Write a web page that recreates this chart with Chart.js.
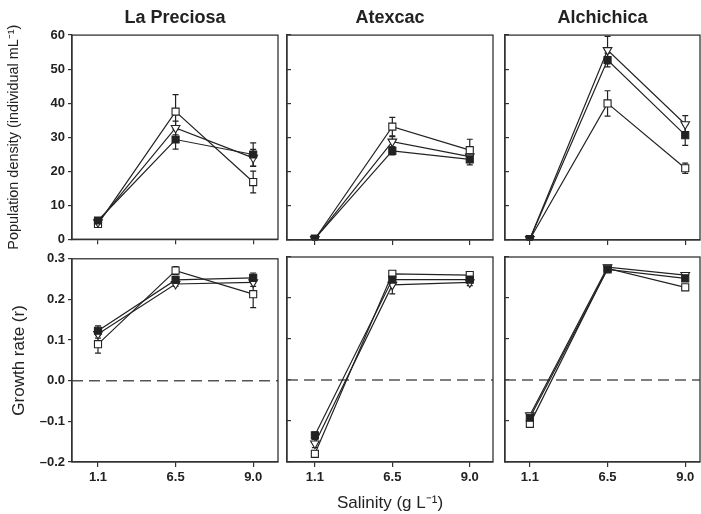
<!DOCTYPE html>
<html>
<head>
<meta charset="utf-8">
<script src="https://cdn.jsdelivr.net/npm/chart.js@4.4.0/dist/chart.umd.min.js"></script>
<style>
body { margin: 0; background: #fff; }
#wrap { position: relative; width: 701px; height: 514px; overflow: hidden; }
.panel { position: absolute; }
</style>
</head>
<body>
<div id="wrap"></div>
<script>
var salinity = ['1.1', '6.5', '9.0'];
var sites = ['La Preciosa', 'Atexcac', 'Alchichica'];

// population density, one row per site
var densityOpenSquare   = [[4.5, 37.5, 16.8], [0.3, 33.2, 26.3], [0.2, 40.0, 21.0]];
var densityOpenTriangle = [[5.0, 32.7, 23.9], [0.3, 28.8, 24.4], [0.3, 55.6, 33.9]];
var densityFilled       = [[5.5, 29.3, 24.9], [0.4, 26.1, 23.6], [0.3, 52.7, 30.7]];
var densityErrSquare    = [[0.6, 5.0, 3.2], [0.3, 2.7, 3.2], [0.3, 3.7, 1.5]];
var densityErrTriangle  = [[0.5, 2.0, 2.5], [0.3, 1.5, 1.5], [0.3, 4.0, 2.5]];
var densityErrFilled    = [[0.5, 2.8, 3.4], [0.3, 1.2, 1.6], [0.3, 2.0, 3.0]];

// growth rate r, one row per site
var growthOpenSquare   = [[0.090, 0.271, 0.213], [-0.180, 0.259, 0.256], [-0.107, 0.272, 0.226]];
var growthOpenTriangle = [[0.115, 0.238, 0.242], [-0.155, 0.232, 0.238], [-0.086, 0.275, 0.256]];
var growthFilled       = [[0.123, 0.248, 0.253], [-0.135, 0.245, 0.245], [-0.092, 0.270, 0.248]];
var growthErrSquare    = [[0.022, 0.010, 0.033], [0.008, 0.005, 0.006], [0.006, 0.004, 0.006]];
var growthErrTriangle  = [[0.010, 0.005, 0.010], [0.010, 0.022, 0.008], [0.005, 0.004, 0.005]];
var growthErrFilled    = [[0.012, 0.008, 0.012], [0.008, 0.010, 0.008], [0.005, 0.004, 0.006]];

var FONT = "'Liberation Sans', Arial, sans-serif";
var INK = '#222';

var cols = [
  { left: 0, width: 283, axisW: 72, padR: 5, xMin: -0.335, xMax: 2.32 },
  { left: 283, width: 214, axisW: 4, padR: 4, xMin: -0.36, xMax: 2.3 },
  { left: 497, width: 204, axisW: 8, padR: 1, xMin: -0.32, xMax: 2.19 }
];

// error bars drawn under the markers
var errorBars = {
  id: 'errorBars',
  beforeDatasetsDraw: function (chart) {
    var ctx = chart.ctx, ys = chart.scales.y;
    ctx.save();
    ctx.strokeStyle = INK;
    ctx.lineWidth = 1.2;
    chart.data.datasets.forEach(function (ds, di) {
      var meta = chart.getDatasetMeta(di);
      meta.data.forEach(function (pt, i) {
        var v = ds.data[i].y, e = ds.errors[i];
        var y1 = ys.getPixelForValue(v + e), y2 = ys.getPixelForValue(v - e);
        ctx.beginPath();
        ctx.moveTo(pt.x, y1); ctx.lineTo(pt.x, y2);
        ctx.moveTo(pt.x - 3, y1); ctx.lineTo(pt.x + 3, y1);
        ctx.moveTo(pt.x - 3, y2); ctx.lineTo(pt.x + 3, y2);
        ctx.stroke();
      });
    });
    ctx.restore();
  }
};

// box around the plot area and dashed zero line
var frame = {
  id: 'frame',
  beforeDatasetsDraw: function (chart, args, opts) {
    var ctx = chart.ctx, a = chart.chartArea;
    if (opts.zero) {
      var y0 = chart.scales.y.getPixelForValue(0);
      ctx.save();
      ctx.strokeStyle = '#555';
      ctx.lineWidth = 1.5;
      ctx.setLineDash([11, 6]);
      ctx.beginPath();
      ctx.moveTo(a.left, y0); ctx.lineTo(a.right, y0);
      ctx.stroke();
      ctx.restore();
    }
  },
  afterDraw: function (chart) {
    var ctx = chart.ctx, a = chart.chartArea;
    ctx.save();
    ctx.strokeStyle = '#333';
    ctx.lineWidth = 1.3;
    ctx.strokeRect(a.left, a.top, a.right - a.left, a.bottom - a.top);
    ctx.restore();
  }
};

function series(vals, errs, style, fill, rot) {
  return {
    data: vals.map(function (v, i) { return { x: i, y: v }; }),
    errors: errs,
    borderColor: INK,
    borderWidth: 1.2,
    pointStyle: style,
    pointRotation: rot || 0,
    pointRadius: 5,
    pointBorderWidth: 1.1,
    pointBorderColor: INK,
    pointBackgroundColor: fill,
    tension: 0
  };
}

function makePanel(row, c) {
  var col = cols[c];
  var top = row === 0;
  var div = document.createElement('div');
  div.className = 'panel';
  div.style.left = col.left + 'px';
  div.style.top = (top ? 0 : 248) + 'px';
  var cv = document.createElement('canvas');
  cv.width = col.width;
  cv.height = top ? 250 : 266;
  div.appendChild(cv);
  document.getElementById('wrap').appendChild(div);

  var datasets = top ? [
    series(densityFilled[c], densityErrFilled[c], 'rect', INK),
    series(densityOpenTriangle[c], densityErrTriangle[c], 'triangle', '#fff', 180),
    series(densityOpenSquare[c], densityErrSquare[c], 'rect', '#fff')
  ] : [
    series(growthFilled[c], growthErrFilled[c], 'rect', INK),
    series(growthOpenTriangle[c], growthErrTriangle[c], 'triangle', '#fff', 180),
    series(growthOpenSquare[c], growthErrSquare[c], 'rect', '#fff')
  ];

  var yTitle = c !== 0 ? { display: false } : top ? {
    display: true, text: 'Population density (individual mL\u207B\u00B9)',
    color: INK, font: { family: FONT, size: 14.4 }, padding: { top: 5 }
  } : {
    display: true, text: 'Growth rate (r)',
    color: INK, font: { family: FONT, size: 17 }, padding: { top: 9 }
  };

  new Chart(cv, {
    type: 'line',
    data: { datasets: datasets },
    plugins: [errorBars, frame],
    options: {
      responsive: false,
      animation: false,
      devicePixelRatio: 1,
      layout: { autoPadding: false, padding: { top: top ? 0 : 9, right: col.padR, left: 0, bottom: 0 } },
      plugins: {
        legend: { display: false },
        tooltip: { enabled: false },
        frame: { zero: !top },
        title: top ? {
          display: true, text: sites[c], fullSize: false, color: INK,
          font: { family: FONT, size: 18, weight: 'bold' },
          padding: { top: 7.5, bottom: 6 }
        } : { display: false }
      },
      scales: {
        x: {
          type: 'linear', min: col.xMin, max: col.xMax,
          afterBuildTicks: function (s) { s.ticks = salinity.map(function (l, i) { return { value: i }; }); },
          afterFit: function (s) {
            s.height = top ? 10 : 52;
            s.paddingLeft = 0;
            s.paddingRight = 0;
          },
          grid: { drawOnChartArea: false, tickLength: 5, color: '#333', lineWidth: 1.2 },
          border: { color: '#333', width: 1.3 },
          ticks: {
            display: !top, color: INK, padding: 3,
            font: { family: FONT, size: 13, weight: 'bold' },
            callback: function (v) { return salinity[v]; }
          },
          title: (!top && c === 1) ? {
            display: true, text: 'Salinity (g L\u207B\u00B9)', color: INK,
            font: { family: FONT, size: 17 }, padding: { bottom: 0 }
          } : { display: false }
        },
        y: {
          min: top ? 0 : -0.2, max: top ? 60 : 0.3,
          ticks: {
            display: c === 0, stepSize: top ? 10 : 0.1, color: INK, padding: 3,
            font: { family: FONT, size: 13, weight: 'bold' },
            callback: function (v) {
              if (top) return v;
              var s = Math.abs(v).toFixed(1);
              return v < -1e-9 ? '\u2013' + s : s;
            }
          },
          afterFit: function (s) { s.width = col.axisW; },
          grid: { drawOnChartArea: false, tickLength: c === 0 ? 4 : -4, color: '#333', lineWidth: 1.2 },
          border: { color: '#333', width: 1.3 },
          title: yTitle
        }
      }
    }
  });
}

for (var r = 0; r < 2; r++) {
  for (var c = 0; c < 3; c++) makePanel(r, c);
}
</script>
</body>
</html>
